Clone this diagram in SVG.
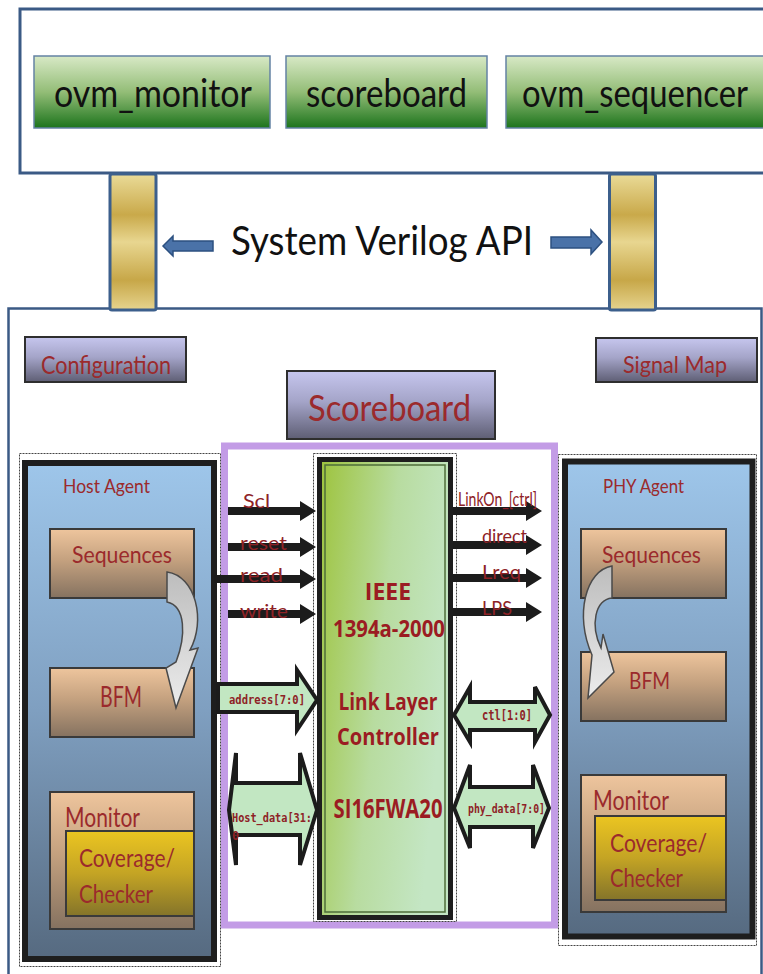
<svg xmlns="http://www.w3.org/2000/svg" width="763" height="974" viewBox="0 0 763 974">
<defs>
<linearGradient id="gGreen" x1="0" y1="0" x2="0" y2="1"><stop offset="0" stop-color="#d8e9c6"/><stop offset="0.5" stop-color="#93bd77"/><stop offset="1" stop-color="#1c741c"/></linearGradient>
<linearGradient id="gGold" x1="0" y1="0" x2="0" y2="1"><stop offset="0" stop-color="#eadb98"/><stop offset="0.3" stop-color="#c9a94a"/><stop offset="0.5" stop-color="#e8d690"/><stop offset="0.78" stop-color="#c7a748"/><stop offset="1" stop-color="#e6d48e"/></linearGradient>
<linearGradient id="gLav" x1="0" y1="0" x2="0" y2="1"><stop offset="0" stop-color="#c6c6ee"/><stop offset="0.45" stop-color="#a4a4c8"/><stop offset="1" stop-color="#5e5e74"/></linearGradient>
<linearGradient id="gBlue" x1="0" y1="0" x2="0" y2="1"><stop offset="0" stop-color="#9ec6ea"/><stop offset="0.5" stop-color="#7f9fc0"/><stop offset="1" stop-color="#566a80"/></linearGradient>
<linearGradient id="gPeach" x1="0" y1="0" x2="0" y2="1"><stop offset="0" stop-color="#eec59d"/><stop offset="0.45" stop-color="#c4a17f"/><stop offset="1" stop-color="#857260"/></linearGradient>
<linearGradient id="gYellow" x1="0" y1="0" x2="0" y2="1"><stop offset="0" stop-color="#ebc521"/><stop offset="0.5" stop-color="#c4a424"/><stop offset="1" stop-color="#84742a"/></linearGradient>
<linearGradient id="gChip" x1="0" y1="0" x2="1" y2="0.35"><stop offset="0" stop-color="#9dc33c"/><stop offset="0.55" stop-color="#b8dca0"/><stop offset="1" stop-color="#c4e6c4"/></linearGradient>
<linearGradient id="gGray" x1="0" y1="0" x2="0" y2="1"><stop offset="0" stop-color="#bdbdbd"/><stop offset="1" stop-color="#ececec"/></linearGradient>
<style>
.lbl{font-family:Lato,"Liberation Sans",sans-serif;fill:#9b2a2c}
.top{font-family:Lato,"Liberation Sans",sans-serif;fill:#111}
.chip{font-family:"Open Sans",Lato,sans-serif;font-weight:bold;fill:#9b1c22;text-anchor:middle}
.sig{font-family:Lato,"Liberation Sans",sans-serif;fill:#8e2226;font-size:19px}
.mono{font-family:"DejaVu Sans Mono","Liberation Mono",monospace;font-weight:bold;fill:#8e2226}
.gbox{fill:url(#gGreen);stroke:#6482a4;stroke-width:1.5}
.lbox{fill:url(#gLav);stroke:#2e2e2e;stroke-width:2}
.pbox{fill:url(#gPeach);stroke:#3a3a3a;stroke-width:2}
.ybox{fill:url(#gYellow);stroke:#3a3a3a;stroke-width:2}
.pillar{fill:url(#gGold);stroke:#3c5f8c;stroke-width:3}
.api{fill:#4a72a8;stroke:#2c5080;stroke-width:1.5}
.blk{fill:#1c1c1c}
.barrow{fill:#c2e7c2;stroke:#1c1c1c;stroke-width:4;stroke-linejoin:miter}
.curv{fill:url(#gGray);stroke:#4a4a4a;stroke-width:1.5}
.dash{fill:none;stroke:#444;stroke-width:1;stroke-dasharray:2 1}
</style>
</defs>
<rect width="763" height="974" fill="#fff"/>

<g id="top-panel">
<rect x="20" y="9" width="780" height="164" fill="#fff" stroke="#3b5a85" stroke-width="3"/>
</g>
<g id="ovm_monitor"><rect class="gbox" x="34" y="56" width="236" height="72"/><text class="top" x="54" y="107" font-size="38" textLength="198" lengthAdjust="spacingAndGlyphs">ovm_monitor</text></g>
<g id="scoreboard-top"><rect class="gbox" x="286" y="56" width="201" height="72"/><text class="top" x="306" y="107" font-size="38" textLength="161" lengthAdjust="spacingAndGlyphs">scoreboard</text></g>
<g id="ovm_sequencer"><rect class="gbox" x="506" y="56" width="280" height="72"/><text class="top" x="522" y="107" font-size="38" textLength="226" lengthAdjust="spacingAndGlyphs">ovm_sequencer</text></g>

<g id="bottom-panel">
<rect x="8.5" y="308.5" width="753" height="700" fill="#fff" stroke="#3b5a85" stroke-width="2.5"/>
</g>

<g id="pillars">
<rect class="pillar" x="110" y="174" width="46" height="136" rx="2"/>
<rect class="pillar" x="609.5" y="174" width="46" height="136" rx="2"/>
</g>
<g id="api-label"><text class="top" x="231" y="255" font-size="40" textLength="302" lengthAdjust="spacingAndGlyphs">System Verilog API</text></g>

<g id="configuration"><rect class="lbox" x="25" y="337" width="161" height="45"/><text class="lbl" x="41" y="374" font-size="25" textLength="130" lengthAdjust="spacingAndGlyphs">Configuration</text></g>
<g id="signal-map"><rect class="lbox" x="596" y="338" width="161" height="44"/><text class="lbl" x="623" y="373" font-size="24" textLength="104" lengthAdjust="spacingAndGlyphs">Signal Map</text></g>
<g id="scoreboard"><rect class="lbox" x="287" y="371" width="208" height="68"/><text class="lbl" x="308" y="421" font-size="36" textLength="163" lengthAdjust="spacingAndGlyphs">Scoreboard</text></g>

<g id="host-agent">
<rect class="dash" x="19.5" y="453.5" width="201" height="513"/>
<rect x="25" y="463" width="189" height="496" fill="url(#gBlue)" stroke="#1e1e1e" stroke-width="6"/>
<text class="lbl" x="63" y="493" font-size="20" textLength="87" lengthAdjust="spacingAndGlyphs">Host Agent</text>
</g>
<g id="host-sequences"><rect class="pbox" x="50" y="529" width="144" height="69"/><text class="lbl" x="72" y="563" font-size="23" textLength="100" lengthAdjust="spacingAndGlyphs">Sequences</text></g>
<g id="host-bfm"><rect class="pbox" x="50" y="668" width="144" height="69"/><text class="lbl" x="100" y="707" font-size="29" textLength="42" lengthAdjust="spacingAndGlyphs">BFM</text></g>
<g id="host-monitor"><rect class="pbox" x="50" y="792" width="144" height="137"/><text class="lbl" x="65" y="827" font-size="26" textLength="75" lengthAdjust="spacingAndGlyphs">Monitor</text></g>
<g id="host-coverage"><rect class="ybox" x="66" y="831" width="128" height="85"/><text class="lbl" x="79" y="867" font-size="25" textLength="96" lengthAdjust="spacingAndGlyphs">Coverage/</text><text class="lbl" x="79" y="903" font-size="25" textLength="74" lengthAdjust="spacingAndGlyphs">Checker</text></g>

<g id="phy-agent">
<rect class="dash" x="558.5" y="454.5" width="198" height="491"/>
<rect x="565" y="461.5" width="187.5" height="475" fill="url(#gBlue)" stroke="#1e1e1e" stroke-width="6"/>
<text class="lbl" x="603" y="493" font-size="20" textLength="81" lengthAdjust="spacingAndGlyphs">PHY Agent</text>
</g>
<g id="phy-sequences"><rect class="pbox" x="581" y="529" width="145" height="69"/><text class="lbl" x="602" y="563" font-size="23" textLength="99" lengthAdjust="spacingAndGlyphs">Sequences</text></g>
<g id="phy-bfm"><rect class="pbox" x="581" y="652" width="145" height="69"/><text class="lbl" x="629" y="689" font-size="23" textLength="41" lengthAdjust="spacingAndGlyphs">BFM</text></g>
<g id="phy-monitor"><rect class="pbox" x="581" y="775" width="145" height="137"/><text class="lbl" x="593" y="810" font-size="26" textLength="76" lengthAdjust="spacingAndGlyphs">Monitor</text></g>
<g id="phy-coverage"><rect class="ybox" x="595" y="816" width="131" height="84"/><text class="lbl" x="610" y="852" font-size="25" textLength="97" lengthAdjust="spacingAndGlyphs">Coverage/</text><text class="lbl" x="610" y="887" font-size="25" textLength="73" lengthAdjust="spacingAndGlyphs">Checker</text></g>

<g id="dut-frame">
<rect x="224.5" y="446" width="330" height="479" fill="#fff" stroke="#c39ce6" stroke-width="7"/>
</g>

<g id="link-layer-controller">
<rect class="dash" x="313.5" y="453.5" width="143" height="468"/>
<rect x="319.5" y="459.5" width="131" height="458" fill="url(#gChip)" stroke="#1e1e1e" stroke-width="5"/>
<rect x="325" y="465" width="120" height="447" fill="none" stroke="#4f6e3a" stroke-width="1.5"/>
<text class="chip" x="388" y="600" font-size="23">IEEE</text>
<text class="chip" x="389" y="637" font-size="23" textLength="112" lengthAdjust="spacingAndGlyphs">1394a-2000</text>
<text class="chip" x="388" y="710" font-size="23" textLength="99" lengthAdjust="spacingAndGlyphs">Link Layer</text>
<text class="chip" x="388" y="745" font-size="23" textLength="102" lengthAdjust="spacingAndGlyphs">Controller</text>
<text class="chip" x="388" y="818" font-size="26" textLength="109" lengthAdjust="spacingAndGlyphs">SI16FWA20</text>
</g>

<g id="connectors">
<path class="api" d="M163,246 L173,236 L173,241 L213,241 L213,251 L173,251 L173,256 Z"/>
<path class="api" d="M602,242 L591,230 L591,237 L551,237 L551,248 L591,248 L591,254 Z"/>
<path class="blk" d="M228,507 H300 V501 L316,511 L300,521 V515 H228 Z"/>
<path class="blk" d="M228,543 H300 V537 L316,547 L300,557 V551 H228 Z"/>
<path class="blk" d="M214,575 H300 V569 L316,579 L300,589 V583 H214 Z"/>
<path class="blk" d="M228,610 H300 V604 L316,614 L300,624 V618 H228 Z"/>
<path class="blk" d="M453,507 H526 V501 L542,511 L526,521 V515 H453 Z"/>
<path class="blk" d="M453,541 H526 V535 L542,545 L526,555 V549 H453 Z"/>
<path class="blk" d="M453,574 H526 V568 L542,578 L526,588 V582 H453 Z"/>
<path class="blk" d="M453,608 H526 V602 L542,612 L526,622 V616 H453 Z"/>
<path class="barrow" d="M218,684 H297 V670 L317,700 L297,730 V712 H218 Z"/>
<path class="barrow" d="M229,810 L236,753 V783 H300 V753 L317,810 L300,865 V835 H236 V865 Z"/>
<path class="barrow" d="M454,715 L470,687 V702 H535 V687 L550,715 L535,742 V730 H470 V742 Z"/>
<path class="barrow" d="M454,808 L470,765 V787 H533 V765 L549,808 L533,848 V827 H470 V848 Z"/>
<path class="curv" d="M167,572 C196,576 206,621 190,650 L198,648 L176,708 L166,668 L176,662 C186,636 186,606 167,602 Z"/>
<path class="curv" d="M612,566 C586,570 574,615 592,655 L588,698 L614,672 L603,634 L601,648 C590,625 595,600 612,598 Z"/>
</g>

<g id="signal-labels">
<text class="sig" x="243" y="508" textLength="27" lengthAdjust="spacingAndGlyphs">Scl</text>
<text class="sig" x="240" y="550" textLength="47" lengthAdjust="spacingAndGlyphs">reset</text>
<text class="sig" x="240" y="582" textLength="43" lengthAdjust="spacingAndGlyphs">read</text>
<text class="sig" x="240" y="618" textLength="48" lengthAdjust="spacingAndGlyphs">write</text>
<text class="sig" x="458" y="506" font-size="15" textLength="79" lengthAdjust="spacingAndGlyphs">LinkOn_[ctrl]</text>
<text class="sig" x="482" y="543" textLength="45" lengthAdjust="spacingAndGlyphs">direct</text>
<text class="sig" x="482" y="579" textLength="39" lengthAdjust="spacingAndGlyphs">Lreq</text>
<text class="sig" x="482" y="615" textLength="30" lengthAdjust="spacingAndGlyphs">LPS</text>
<text class="mono" x="229" y="704" font-size="13" textLength="76" lengthAdjust="spacingAndGlyphs" font-weight="normal">address[7:0]</text>
<text class="mono" x="232" y="822" font-size="12" textLength="80" lengthAdjust="spacingAndGlyphs">Host_data[31:</text>
<text class="mono" x="232" y="840" font-size="12">0</text>
<text class="mono" x="482" y="720" font-size="14" textLength="50" lengthAdjust="spacingAndGlyphs" font-weight="normal">ctl[1:0]</text>
<text class="mono" x="468" y="813" font-size="12" textLength="77" lengthAdjust="spacingAndGlyphs">phy_data[7:0]</text>
</g>
</svg>
